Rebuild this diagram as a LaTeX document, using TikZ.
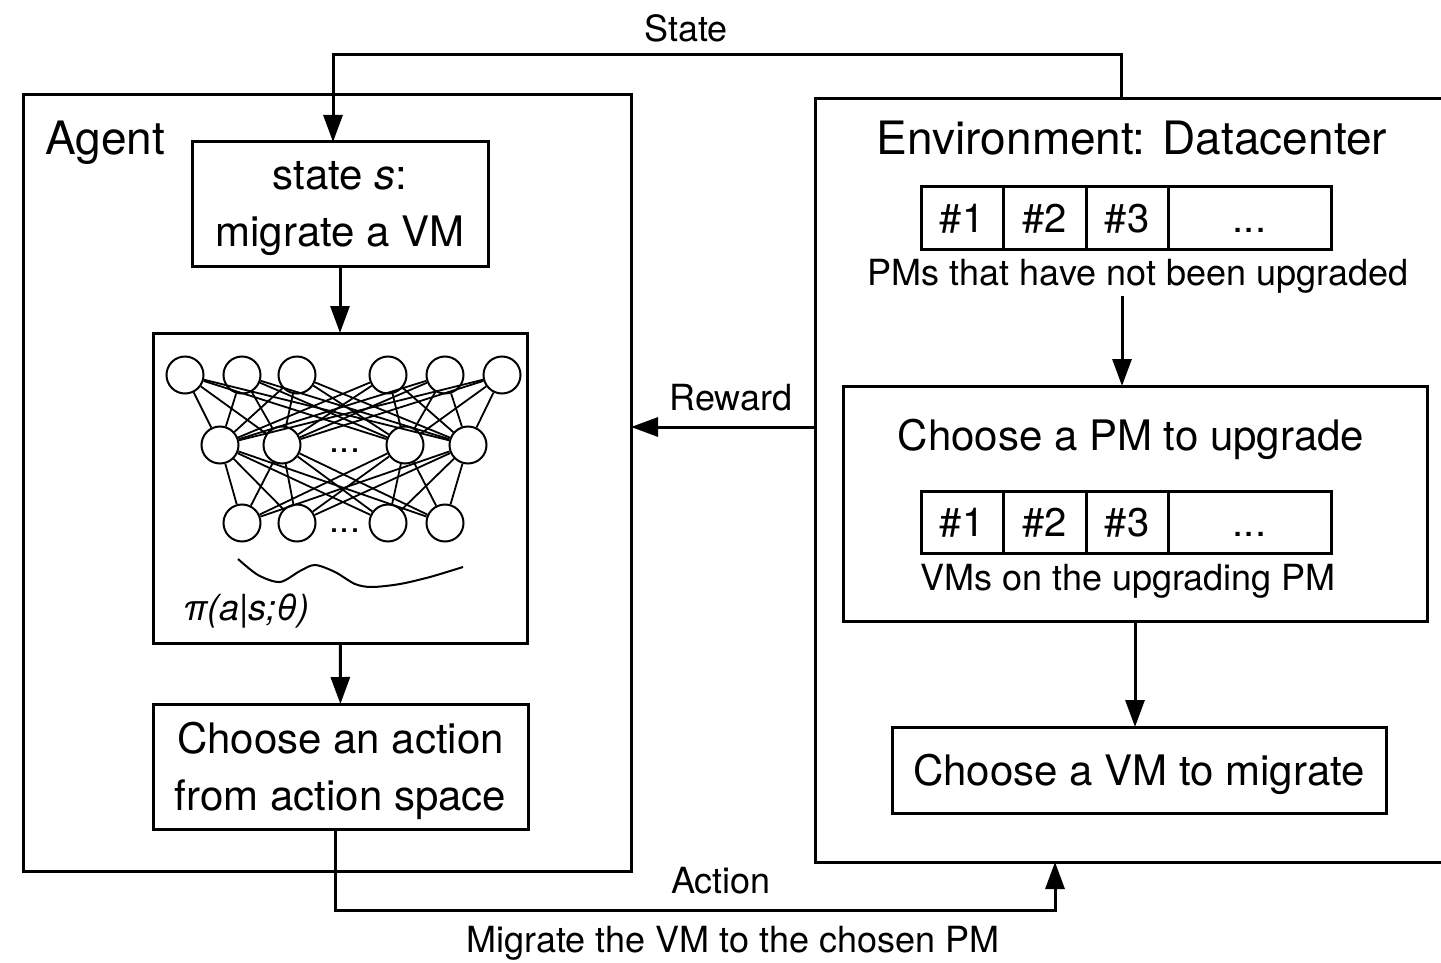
\documentclass[tikz,border=0pt]{standalone}
\usepackage{fontspec}
\setmainfont{TeX Gyre Heros}
\usetikzlibrary{arrows.meta,positioning}

\tikzset{
  huge/.style={font=\fontsize{46}{55}\selectfont},
  big/.style={font=\fontsize{42}{57}\selectfont},
  small/.style={font=\fontsize{36}{43}\selectfont},
  box/.style={draw, line width=3pt, inner sep=0pt, outer sep=0pt, align=center, text depth=0pt, big},
  cell/.style={draw, line width=3pt, inner sep=0pt, outer sep=0pt, minimum height=62pt,
    text height=29pt, text depth=0pt, font=\fontsize{40}{48}\selectfont},
  neuron/.style={circle, draw, line width=2pt, minimum size=37pt, inner sep=0pt},
  link/.style={line width=1.8pt},
  arr/.style={-{Triangle[length=27pt,width=19pt]}, line width=3pt},
}

\begin{document}
\begin{tikzpicture}[x=1pt, y=-1pt]
\useasboundingbox (0,0) rectangle (1441,963);

\node[box, minimum width=608pt, minimum height=776pt] (agent) at (327,483) {};
\node[box, minimum width=630pt, minimum height=763pt] (env) at (1130,480.5) {};
\node[huge, anchor=base west, inner sep=0pt] (agentlbl) at (45,155) {Agent};
\node[huge, anchor=base, inner sep=0pt] (envlbl) at (1132,155) {Environment: Datacenter};

\node[box, minimum width=296pt, minimum height=124pt] (state) at (340,204) {state \textit{s}:\\migrate a VM};
\node[box, minimum width=374pt, minimum height=310pt] (nn) at (340,488) {};
\node[box, minimum width=375pt, minimum height=125pt] (act) at (340.5,766.5) {Choose an action\\from action space};

\foreach \x [count=\i] in {185,242,297,388,445,502}
  \node[neuron] (a\i) at (\x,375) {};
\foreach \x [count=\i] in {220,282,405,468}
  \node[neuron] (b\i) at (\x,445) {};
\foreach \x [count=\i] in {242,297,388,445}
  \node[neuron] (c\i) at (\x,523) {};
\foreach \i in {1,...,6}
  \foreach \j in {1,...,4}
    \draw[link] (a\i) -- (b\j);
\foreach \i in {1,...,4}
  \foreach \j in {1,...,4}
    \draw[link] (b\i) -- (c\j);
\node[small, anchor=base] (dotsb) at (345,452) {...};
\node[small, anchor=base] (dotsc) at (345,532) {...};
\draw[line width=2pt] plot[smooth] coordinates {(238,559) (258,575) (280,582) (300,571) (315,565)
  (335,572) (355,584) (372,587) (400,584) (430,577) (463,567)};
\node[small, anchor=base west, inner sep=0pt] (policy) at (183,620) {\itshape π(a|s;θ)};

\node[cell, minimum width=82pt] (p1) at (962,218) {\#1};
\node[cell, minimum width=83pt, right=0pt of p1] (p2) {\#2};
\node[cell, minimum width=82pt, right=0pt of p2] (p3) {\#3};
\node[cell, minimum width=163pt, right=0pt of p3] (p4) {...};
\node[small, anchor=base] (pml) at (1138,285) {PMs that have not been upgraded};

\node[box, minimum width=584pt, minimum height=235pt] (pm) at (1135,503.5) {};
\node[big, anchor=base, inner sep=0pt] (pmlbl) at (1131,450) {Choose a PM to upgrade};
\node[cell, minimum width=82pt] (q1) at (962,522) {\#1};
\node[cell, minimum width=83pt, right=0pt of q1] (q2) {\#2};
\node[cell, minimum width=82pt, right=0pt of q2] (q3) {\#3};
\node[cell, minimum width=163pt, right=0pt of q3] (q4) {...};
\node[small, anchor=base] (vml) at (1128,590) {VMs on the upgrading PM};

\node[box, minimum width=494pt, minimum height=86pt] (vm) at (1139,770) {Choose a VM to migrate};

\coordinate (stout) at (1121,99);
\coordinate (rwout) at (815,427);
\coordinate (actin) at (1055,862);

\draw[arr] (state) -- (nn);
\draw[arr] (nn) -- (act);
\draw[arr] ([xshift=-16pt]pml.south) -- ([xshift=-13pt]pm.north);
\draw[arr] (pm.south) -- (pm.south |- vm.north);
\draw[arr] (stout) -- ++(0,-44) -| ([xshift=-7pt]state.north);
\draw[arr] (rwout) -- (rwout -| agent.east);
\draw[arr] ([xshift=-5pt]act.south) -- ++(0,81) -| (actin);

\node[small, anchor=base] (statelbl) at (686,42) {State};
\node[small, anchor=base] (rewardlbl) at (731,410) {Reward};
\node[small, anchor=base] (actionlbl) at (721,893) {Action};
\node[small, anchor=base] (migratelbl) at (733,952) {Migrate the VM to the chosen PM};
\end{tikzpicture}
\end{document}
